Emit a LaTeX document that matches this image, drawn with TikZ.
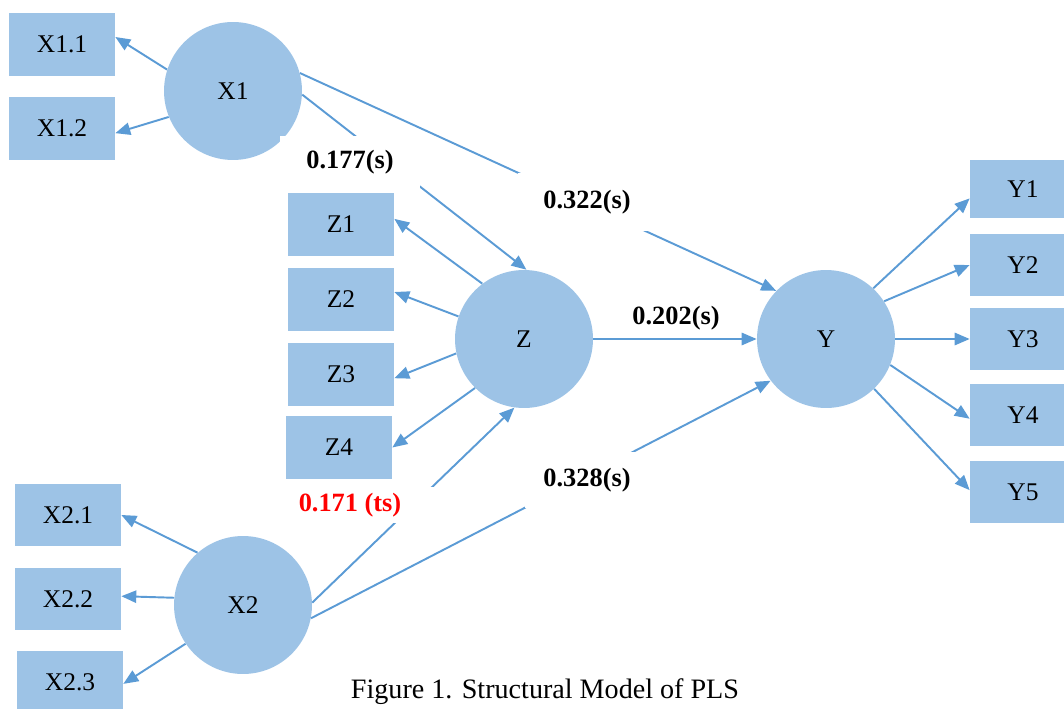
\documentclass[tikz,border=0pt]{standalone}
\usepackage{fontspec}
\setmainfont{Liberation Serif}
\usetikzlibrary{arrows.meta}
\definecolor{boxblue}{RGB}{157,195,230}
\definecolor{lineblue}{RGB}{91,155,213}
\begin{document}
\begin{tikzpicture}[x=0.02cm, y=-0.02cm,
  >={Triangle[length=8.5pt,width=7pt]},
  ind/.style={fill=boxblue, minimum width=2.12cm, minimum height=1.26cm, inner sep=0pt, font=\fontsize{14.5}{17}\selectfont},
  lat/.style={circle, fill=boxblue, minimum size=2.76cm, inner sep=0pt, font=\fontsize{14.5}{17}\selectfont},
  link/.style={draw=lineblue, line width=1.1pt, ->},
  coef/.style={inner sep=0pt, font=\fontsize{15}{18}\selectfont\bfseries}]
\useasboundingbox (0,0) rectangle (1064,709);
\clip (0,0) rectangle (1064,709);

\node[ind] (X11) at (62,44.5) {X1.1};
\node[ind] (X12) at (62,128.5) {X1.2};
\node[lat] (X1) at (233,91) {X1};
%Group X1

\node[ind] (Z1) at (341,224.5) {Z1};
\node[ind] (Z2) at (341,299.5) {Z2};
\node[ind] (Z3) at (341,374.5) {Z3};
\node[ind] (Z4) at (339,447.5) {Z4};
\node[lat] (Z) at (524,339) {Z};
%Group Z

\node[ind] (X21) at (68,515) {X2.1};
\node[ind] (X22) at (68,599) {X2.2};
\node[ind] (X23) at (70,682) {X2.3};
\node[lat] (X2) at (243,605) {X2};
%Group X2

\node[ind, minimum height=1.16cm] (Y1) at (1023,189) {Y1};
\node[ind] (Y2) at (1023,265) {Y2};
\node[ind] (Y3) at (1023,339) {Y3};
\node[ind] (Y4) at (1023,415) {Y4};
\node[ind] (Y5) at (1023,492) {Y5};
\node[lat] (Y) at (826,339) {Y};
%Group Y

\draw[link] (X1.162) -- (X11.8);
\draw[link] (X1.202) -- (X12.355);
\draw[link] (X2.131) -- (X21.east);
\draw[link] (X2.174) -- (X22.3);
\draw[link] (X2.214) -- (X23.358);
\draw[link] (Z.127) -- (Z1.6);
\draw[link] (Z.161) -- (Z2.8);
\draw[link] (Z.192) -- (Z3.356);
\draw[link] (Z.225) -- (Z4.0);
\draw[link] (Y.47) -- (Y1.190);
\draw[link] (Y.33) -- (Y2.180);
\draw[link] (Y.east) -- (Y3.west);
\draw[link] (Y.338) -- (Y4.184);
\draw[link] (Y.314) -- (Y5.178);
%loadings

\draw[link] (X1.357) -- (Z.88);
\draw[link] (X1.15) -- (Y.136);
\draw[link] (Z.east) -- (Y.west);
\draw[link] (X2.2) -- (Z.262);
\draw[link] (X2.349) -- (Y.217);
%paths

\node[coef, fill=white, minimum width=2.82cm, minimum height=1.04cm] (c177) at (350,162) {0.177(s)};
\node[coef, fill=white, minimum width=2.76cm, minimum height=1.16cm] (c322) at (587,202) {0.322(s)};
\node[coef] (c202) at (676,318) {0.202(s)};
\node[coef, fill=white, minimum width=2.48cm, minimum height=1.12cm] (c328) at (587,480) {0.328(s)};
\node[coef, fill=white, text=red, minimum width=3.4cm, minimum height=0.72cm] (c171) at (350,505) {0.171 (ts)};
%coefficients

\node[font=\fontsize{16}{19}\selectfont] (cap) at (545,692) {Figure 1. Structural Model of PLS};
\end{tikzpicture}
\end{document}
